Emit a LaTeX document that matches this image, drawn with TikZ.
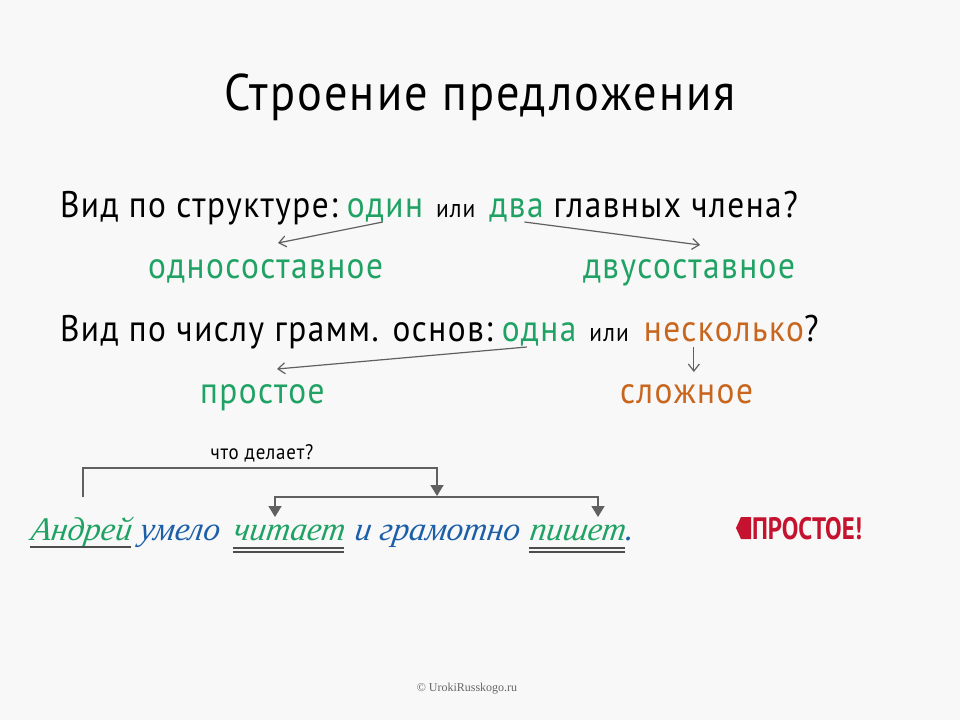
\documentclass[tikz,border=0pt]{standalone}
\usepackage{fontspec}
\setmainfont{PT Sans}[FakeStretch=0.9,LetterSpace=4]
\newfontfamily\prfont{PT Sans}[FakeStretch=0.8]
\newfontfamily\scriptf{Liberation Serif}[FakeSlant=0.15]
\newfontfamily\wmfont{Liberation Serif}
\usetikzlibrary{calc,arrows.meta}
\definecolor{gr}{HTML}{1FA263}
\definecolor{bl}{HTML}{1C5FA8}
\definecolor{orng}{HTML}{C8661E}
\definecolor{rd}{HTML}{C4122F}
\definecolor{ln}{HTML}{606060}
\definecolor{bg}{HTML}{F8F8F8}
\tikzset{
  t/.style={inner sep=0pt,outer sep=0pt,anchor=base west},
  big/.style={t,font=\fontsize{37}{40}\selectfont},
  small/.style={t,font=\fontsize{26}{28}\selectfont},
  thinarr/.style={draw=ln,line width=1.2pt,-{Straight Barb[length=7pt,width=11pt]}},
  brk/.style={draw=ln,line width=1.6pt},
  brkarr/.style={brk,-{Triangle[length=11pt,width=13pt]}},
  scr/.style={t,font=\scriptf\itshape\fontsize{33}{36}\selectfont},
  ul/.style={draw=ln!80!black,line width=1.3pt}
}
\begin{document}
\begin{tikzpicture}[x=1pt,y=-1pt]
\fill[bg] (0,0) rectangle (960,720);
\useasboundingbox (0,0) rectangle (960,720);
% title
\node[inner sep=0pt,anchor=base,font=\fontsize{51.5}{54}\selectfont] (title) at (480,110) {Строение предложения};
% line 1
\node[big] (l1a) at (60,217) {Вид по структуре:\,};
\node[big,text=gr] (odin) at ($(l1a.base east)+(3,0)$) {один};
\node[small] (ili1) at ($(odin.base east)+(13,0)$) {или};
\node[big,text=gr] (dva) at ($(ili1.base east)+(14,0)$) {два};
\node[big] (l1b) at ($(dva.base east)+(10,0)$) {главных члена?};
\node[big,text=gr] (odnos) at (148,278) {односоставное};
\node[big,text=gr] (dvus) at (583,278) {двусоставное};
\draw[thinarr] ($(odin.base west)+(36,5)$) -- ($(odnos.base west)+(130,-35)$);
\draw[thinarr] ($(dva.base west)+(35,5)$) -- ($(dvus.base west)+(117,-33)$);
% line 2
\node[big] (l2a) at (60,341) {Вид по числу грамм. основ:\,};
\node[big,text=gr] (odna) at ($(l2a.base east)+(3,0)$) {одна};
\node[small] (ili2) at ($(odna.base east)+(13,0)$) {или};
\node[big,text=orng] (nesk) at ($(ili2.base east)+(15,0)$) {несколько};
\node[big] (q2) at (nesk.base east) {?};
\node[big,text=gr] (prost) at (200,403) {простое};
\node[big,text=orng] (slozh) at (620,403) {сложное};
\draw[thinarr] ($(odna.base west)+(25,6)$) -- ($(prost.base west)+(77,-34)$);
\draw[thinarr] ($(nesk.base west)+(50,6)$) -- ($(nesk.base west)+(50,31)$);
% что делает?
\node[inner sep=0pt,anchor=base,font=\fontsize{21}{24}\selectfont] (chto) at (262,459) {что делает?};
% script sentence
\node[scr,text=gr] (andr) at (30,540) {Андрей};
\node[scr,text=bl] (umelo) at ($(andr.base east)+(8,0)$) {умело};
\node[scr,text=gr] (chit) at ($(umelo.base east)+(14,0)$) {читает};
\node[scr,text=bl] (igr) at ($(chit.base east)+(10,0)$) {и грамотно};
\node[scr,text=gr] (pish) at ($(igr.base east)+(10,0)$) {пишет};
\node[scr,text=bl] (dot) at (pish.base east) {.};
% underlines
\draw[ul] ($(andr.base west)+(0,7)$) -- ($(andr.base east)+(0,7)$);
\draw[ul] ($(chit.base west)+(0,8)$) -- ($(chit.base east)+(0,8)$);
\draw[ul] ($(chit.base west)+(0,12)$) -- ($(chit.base east)+(0,12)$);
\draw[ul] ($(pish.base west)+(0,8)$) -- ($(pish.base east)+(0,8)$);
\draw[ul] ($(pish.base west)+(0,12)$) -- ($(pish.base east)+(0,12)$);
% brackets
\coordinate (b1s) at (83,497);
\coordinate (b1e) at (437,496);
\coordinate (b2m) at (437,497);
\coordinate (b2l) at (275,517);
\coordinate (b2r) at (598,517);
\draw[brkarr] (b1s) -- ++(0,-29) -| (b1e);
\draw[brkarr] (b2m) -| (b2l);
\draw[brkarr] (b2m) -| (b2r);
% ПРОСТОЕ!
\node[t,font=\prfont\bfseries\fontsize{31}{32}\selectfont,text=rd] (pr) at (752,539) {ПРОСТОЕ!};
\fill[rd] ($(pr.base west)+(-1,0)$) -- ($(pr.base west)+(-11,0)$) -- ($(pr.base west)+(-16,-11)$) -- ($(pr.base west)+(-11,-22)$) -- ($(pr.base west)+(-1,-22)$) -- cycle;
% watermark
\node[inner sep=0pt,anchor=base,font=\wmfont\fontsize{12}{14}\selectfont,text=black!60] (wm) at (467,691) {© UrokiRusskogo.ru};
\end{tikzpicture}
\end{document}
